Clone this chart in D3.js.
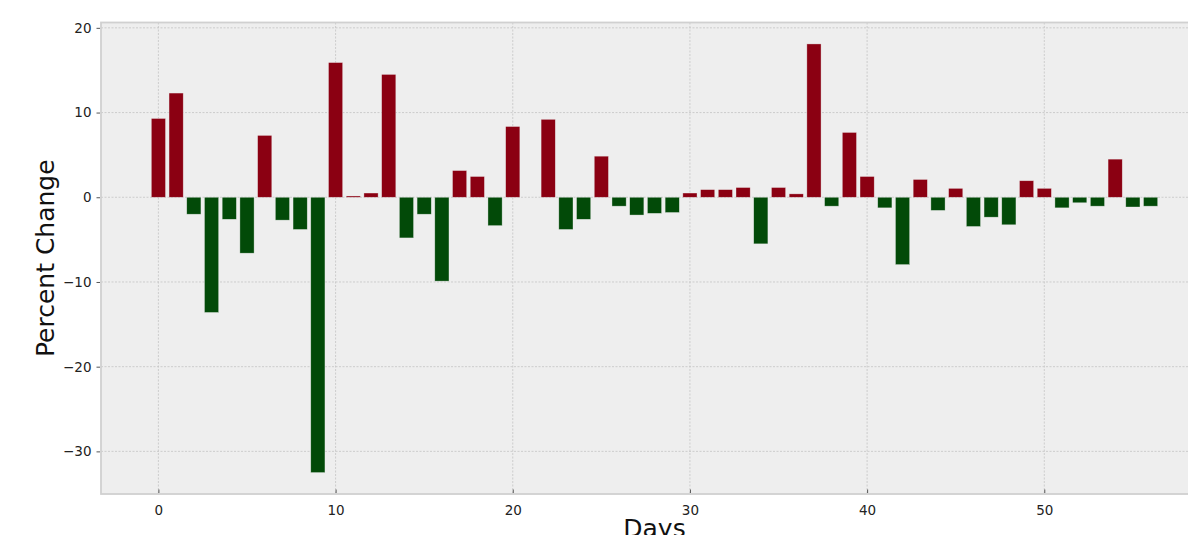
<!DOCTYPE html>
<html>
<head>
<meta charset="utf-8">
<script src="https://cdn.jsdelivr.net/npm/d3@7"></script>
<style>
  body { margin: 0; background: #fff; }
  text { font-family: "DejaVu Sans", sans-serif; }
</style>
</head>
<body>
<div id="chart"></div>
<script>
// daily percent change, day 0..56
const days = d3.range(0, 57);
const pctChange = [
  9.3, 12.3, -2.0, -13.6, -2.6, -6.6, 7.3, -2.7, -3.8, -32.5,
  15.9, 0.15, 0.5, 14.5, -4.8, -2.0, -9.9, 3.15, 2.45, -3.35,
  8.35, 0.0, 9.2, -3.8, -2.6, 4.85, -1.05, -2.1, -1.9, -1.8,
  0.5, 0.9, 0.9, 1.15, -5.5, 1.15, 0.4, 18.1, -1.05, 7.65,
  2.45, -1.25, -7.95, 2.1, -1.55, 1.05, -3.45, -2.35, -3.25, 1.95,
  1.05, -1.25, -0.65, -1.05, 4.5, -1.15, -1.05
];
const xTicks = [0, 10, 20, 30, 40, 50];
const yTicks = [-30, -20, -10, 0, 10, 20];

const W = 1188, H = 535;
const plot = {left: 101, right: 1208, top: 22.5, bottom: 494};
const barW = 0.8;

const svg = d3.select('#chart').append('svg')
    .attr('width', W)
    .attr('height', H);

// matplotlib style autoscale: 5% margins
const xLo = -barW / 2, xHi = days.length - 1 + barW / 2;
const xPad = (xHi - xLo) * 0.05;
const x = d3.scaleLinear().domain([xLo - xPad, xHi + xPad]).range([plot.left, plot.right]);

const yLo = d3.min(pctChange), yHi = d3.max(pctChange);
const yPad = (yHi - yLo) * 0.05;
const y = d3.scaleLinear().domain([yLo - yPad, yHi + yPad]).range([plot.bottom, plot.top]);

// axes background
svg.append('rect')
    .attr('x', plot.left).attr('y', plot.top)
    .attr('width', plot.right - plot.left).attr('height', plot.bottom - plot.top)
    .attr('fill', '#eeeeee');

// grid
svg.append('g').selectAll('line').data(yTicks).enter().append('line')
    .attr('x1', plot.left).attr('x2', plot.right)
    .attr('y1', d => y(d)).attr('y2', d => y(d))
    .attr('stroke', '#c4c4c4').attr('stroke-width', 0.8)
    .attr('stroke-dasharray', '2,1.5');
svg.append('g').selectAll('line').data(xTicks).enter().append('line')
    .attr('y1', plot.top).attr('y2', plot.bottom)
    .attr('x1', d => x(d)).attr('x2', d => x(d))
    .attr('stroke', '#c4c4c4').attr('stroke-width', 0.8)
    .attr('stroke-dasharray', '2,1.5');

// bars
svg.append('g').selectAll('rect').data(pctChange).enter().append('rect')
    .attr('x', (d, i) => x(days[i] - barW / 2))
    .attr('width', x(barW) - x(0))
    .attr('y', d => y(Math.max(0, d)))
    .attr('height', d => Math.abs(y(d) - y(0)))
    .attr('fill', d => d >= 0 ? '#8b0012' : '#024a08')
    .attr('stroke', '#eeeeee').attr('stroke-opacity', 0.6)
    .attr('stroke-width', 0.6);

// frame
svg.append('rect')
    .attr('x', plot.left).attr('y', plot.top)
    .attr('width', plot.right - plot.left).attr('height', plot.bottom - plot.top)
    .attr('fill', 'none')
    .attr('stroke', '#d0d0d0').attr('stroke-width', 1.8);

// y axis
const yAxis = svg.append('g')
    .attr('transform', `translate(${plot.left - 1},0)`)
    .call(d3.axisLeft(y).tickValues(yTicks).tickSize(3.5).tickPadding(5));
yAxis.select('.domain').remove();
yAxis.selectAll('.tick line').attr('stroke', '#555');
yAxis.selectAll('.tick text').attr('font-size', 13.5).attr('fill', '#222')
    .attr('font-family', 'DejaVu Sans');

// x axis (ticks point inward)
const xAxis = svg.append('g')
    .attr('transform', `translate(0,${plot.bottom - 1})`)
    .call(d3.axisBottom(x).tickValues(xTicks).tickSizeInner(-3.5).tickSizeOuter(0).tickPadding(12));
xAxis.select('.domain').remove();
xAxis.selectAll('.tick line').attr('stroke', '#555');
xAxis.selectAll('.tick text').attr('font-size', 13.5).attr('fill', '#222')
    .attr('font-family', 'DejaVu Sans');

// labels
svg.append('text')
    .attr('transform', `translate(54,${(plot.top + plot.bottom) / 2}) rotate(-90)`)
    .attr('text-anchor', 'middle')
    .attr('font-size', 25)
    .attr('fill', '#111')
    .text('Percent Change');

// the x label sits partly below the picture's bottom edge, as in the reference
svg.append('text')
    .attr('x', (plot.left + plot.right) / 2)
    .attr('y', 537)
    .attr('text-anchor', 'middle')
    .attr('font-size', 25)
    .attr('fill', '#111')
    .text('Days');
</script>
</body>
</html>
